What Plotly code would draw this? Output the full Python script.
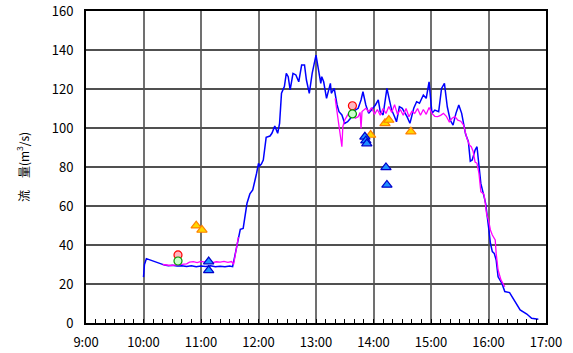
import plotly.graph_objects as go

# ---- data (time as "H:MM", values in m3/s) ----
blue_t = ["10:00","10:01","10:03","10:06","10:10","10:14","10:18","10:22","10:26","10:30","10:35","10:40",
          "10:45","10:50","10:55","11:00","11:05","11:10","11:15","11:20","11:25","11:30","11:33","11:36",
          "11:39","11:41","11:44","11:46","11:48","11:51","11:54","11:58","12:00","12:01","12:03","12:05",
          "12:08","12:12","12:14","12:17","12:19","12:20","12:22","12:24","12:27","12:29","12:31","12:33",
          "12:36","12:39","12:42","12:45","12:48","12:50","12:53","12:56","13:00","13:03","13:05","13:06",
          "13:08","13:11","13:13","13:15","13:16","13:19","13:22","13:24","13:27","13:30","13:33","13:36",
          "13:38","13:41","13:44","13:47","13:49","13:52","13:55","13:58","14:02","14:05","14:07","14:10",
          "14:11","14:14","14:17","14:19","14:22","14:24","14:27","14:30","14:35","14:38","14:42","14:45",
          "14:48","14:52","14:55","14:58","15:01","15:04","15:08","15:11","15:14","15:17","15:20","15:23",
          "15:26","15:29","15:32","15:36","15:39","15:41","15:43","15:46","15:48","15:50","15:52","15:55",
          "15:57","16:00","16:02","16:04","16:06","16:08","16:10","16:14","16:17","16:22","16:28","16:33",
          "16:40","16:45","16:52"]
blue_v = [23.5,30,33,32.5,31.8,31,30.2,29.7,29.4,29.6,29.2,29.4,
          29.0,29.3,28.9,29.2,29.0,29.3,28.9,29.1,28.8,29.2,28.9,36,
          42.6,48,48.5,54.5,61.4,66.2,68.2,76.8,81.9,80.5,81.5,83.6,
          95.2,95.9,97.3,101,99,97.3,102.4,117.8,121.2,128,126.3,119.5,
          128,127.2,123.7,132.3,132.3,124.6,117.8,128,137.4,128,122.9,126.3,
          123.7,115.2,119.5,122.9,117.8,120.3,111.8,108.4,106.7,102.4,103.2,105,
          107.5,109.2,110.1,114.4,118.6,111.8,107.5,109.2,111.8,114.4,108.4,106.7,
          110.9,120.3,113.5,109.2,105.8,103.2,110.9,110.1,105.8,102.4,110.1,113.5,
          112.7,116.9,115.2,123.7,107.5,109.2,108.4,120.3,122.9,110.9,104.1,101.5,
          107.5,111.8,107.5,97,93,83,83.6,88.7,90.4,80.2,71.6,65.6,
          61.4,49.4,40.9,36.6,35.7,32.3,23.7,20.3,16.1,15.6,10.9,6.7,
          4.6,2.4,1.9]

# first run (morning), then a gap, then second run (afternoon)
mag_t = ["10:20","10:24","10:28","10:35","10:40","10:45","10:48","10:52","10:56","11:00","11:04","11:08",
         "11:12","11:16","11:20","11:24","11:28","11:32","11:34","11:37","11:39","11:40",
         "13:20","13:23","13:25","13:27","13:28","13:30","13:32","13:35","13:38","13:41","13:44","13:46",
         "13:47","13:48","13:52","13:55","13:58","14:01","14:04","14:07","14:10","14:13","14:16","14:19",
         "14:22","14:25","14:28","14:31","14:34","14:37","14:40","14:43","14:46","14:49","14:52","14:55",
         "14:58","15:01","15:04","15:07","15:10","15:13","15:16","15:19","15:22","15:25","15:28","15:31",
         "15:34","15:37","15:40","15:42","15:44","15:46","15:48","15:50","15:52","15:55","15:56","15:58",
         "16:00","16:02","16:04","16:06","16:07","16:08","16:10","16:13","16:15","16:17"]
mag_v = [30.0,29.6,29.5,29.8,30.0,30.3,31.2,31.5,31.0,31.6,31.2,31.5,
         31.0,31.4,31.2,31.6,31.1,31.5,30,38,44,None,
         115.2,104.1,99,90.4,100.7,104.1,105.8,108.4,106.7,105,105.8,108,
         99.8,108.4,110.1,108.4,110.5,107,109.5,106.5,110,107.5,111,108,
         112,107,109.5,106.5,110,105.8,108.5,107.5,110,106.5,109.5,107,
         110.5,107.5,106,105.8,106.5,107.5,106,103.2,105,105.8,104,103.5,
         101.5,95.5,91.3,90.4,88,82.5,81.9,76.8,67.3,66.2,63.9,56,
         52.8,47.7,45.1,43.4,42.6,35.7,27.2,22.1,20.3,18.6]

red_t = ["10:36", "13:38"]
red_v = [34.9, 111.4]
green_t = ["10:36", "13:38"]
green_v = [31.8, 107.2]
orange_t = ["10:55", "11:01", "13:57", "14:12", "14:16", "14:39"]
orange_v = [49.9, 47.7, 96.4, 102.4, 104.1, 98.1]
bluetri_t = ["11:08", "11:08", "13:51", "13:52", "13:53", "14:13", "14:14"]
bluetri_v = [31.5, 27.0, 95.5, 93.5, 92.0, 79.8, 70.8]

tick_hours = [9, 10, 11, 12, 13, 14, 15, 16, 17]
tick_labels = ["9:00", "10:00", "11:00", "12:00", "13:00", "14:00", "15:00", "16:00", "17:00"]
y_ticks = [0, 20, 40, 60, 80, 100, 120, 140, 160]


def hrs(s):
    h, m = s.split(":")
    return int(h) + int(m) / 60.0


fig = go.Figure()
fig.add_trace(go.Scatter(x=[hrs(t) for t in blue_t], y=blue_v, mode="lines",
                         line=dict(color="#0000ff", width=1.5), showlegend=False))
fig.add_trace(go.Scatter(x=[hrs(t) for t in mag_t], y=mag_v, mode="lines",
                         line=dict(color="#ff00ff", width=1.3), connectgaps=False, showlegend=False))
fig.add_trace(go.Scatter(x=[hrs(t) for t in red_t], y=red_v, mode="markers",
                         marker=dict(symbol="circle", size=8, color="#ffb6c1",
                                     line=dict(color="#ff0000", width=1.2)), showlegend=False))
fig.add_trace(go.Scatter(x=[hrs(t) for t in green_t], y=green_v, mode="markers",
                         marker=dict(symbol="circle", size=8, color="#ccffcc",
                                     line=dict(color="#009900", width=1.2)), showlegend=False))
fig.add_trace(go.Scatter(x=[hrs(t) for t in orange_t], y=orange_v, mode="markers",
                         marker=dict(symbol="triangle-up", size=9, color="#ffd700",
                                     line=dict(color="#ff8000", width=1.2)), showlegend=False))
fig.add_trace(go.Scatter(x=[hrs(t) for t in bluetri_t], y=bluetri_v, mode="markers",
                         marker=dict(symbol="triangle-up", size=9, color="#1e90ff",
                                     line=dict(color="#0000cc", width=1.2)), showlegend=False))

font = "Noto Sans CJK JP"
fig.update_layout(
    width=573, height=353,
    margin=dict(l=86, r=27, t=11, b=30),
    paper_bgcolor="white", plot_bgcolor="white",
    font=dict(family=font, size=13, color="black"),
    xaxis=dict(range=[9, 17], tickvals=tick_hours, ticktext=tick_labels, automargin=False,
               showgrid=True, gridcolor="#707070", gridwidth=1.5,
               showline=True, linecolor="black", linewidth=2, mirror=True,
               ticks="inside", ticklen=4, tickcolor="black",
               minor=dict(dtick=1/6, tick0=9, ticks="inside", ticklen=4, tickcolor="black", showgrid=False),
               ticklabelstandoff=6, zeroline=False),
    yaxis=dict(range=[0, 160], tickvals=y_ticks, automargin=False,
               showgrid=True, gridcolor="#505050", gridwidth=1.5,
               showline=True, linecolor="black", linewidth=2, mirror=True,
               ticks="", ticklabelstandoff=8, zeroline=False,
               title=dict(text="流　量(m<sup>3</sup>/s)", standoff=20, font=dict(size=12))),
)

fig.write_html("out.html")
